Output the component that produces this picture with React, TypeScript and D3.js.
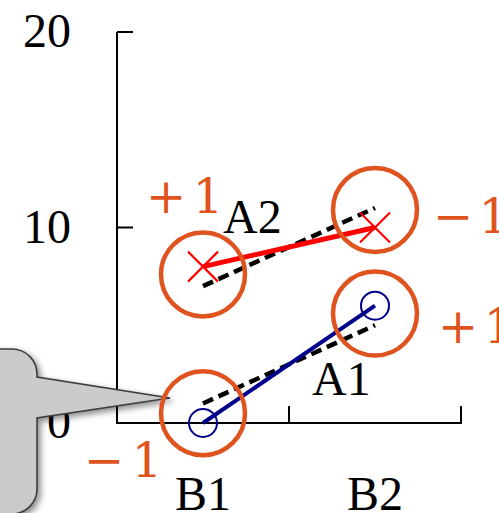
import React from "react";
import * as d3 from "d3";

const categories = ["B1", "B2"];
const seriesNames = ["A1", "A2"];
const a1Values = [0, 6];
const a2Values = [8, 10];
const a1Additive = [1, 5];
const a2Additive = [7, 11];
const yTicks = [0, 10, 20];
const residualLabels = [
  { series: "A1", cat: "B1", sign: "−", value: 1 },
  { series: "A1", cat: "B2", sign: "+", value: 1 },
  { series: "A2", cat: "B1", sign: "+", value: 1 },
  { series: "A2", cat: "B2", sign: "−", value: 1 },
];
const circleCenters = [0.5, 5.6, 7.6, 10.9];
const circleCats = ["B1", "B2", "B1", "B2"];

const W = 499;
const H = 513;
const ORANGE = "#DF531E";

export default function App() {
  const x = d3.scaleBand<string>().domain(categories).range([117, 461]).padding(0);
  const y = d3.scaleLinear().domain([0, 20]).range([423, 32]);
  const cx = (c: string) => (x(c) as number) + x.bandwidth() / 2;
  const line = d3
    .line<number>()
    .x((_, i) => cx(categories[i]))
    .y((v) => y(v));

  const serifBlack = "'Liberation Serif', 'Times New Roman', serif";
  const serifOrange = "'DejaVu Serif', serif";

  // label placement for residual labels (sign center x, digit center x, baseline y)
  const resPos = [
    { sx: 104, dx: 147, by: 477 },
    { sx: 458, dx: 499, by: 343 },
    { sx: 166, dx: 208, by: 213 },
    { sx: 453, dx: 494, by: 233 },
  ];

  const xTickPositions = [117, ...categories.map((c) => (x(c) as number) + x.bandwidth())];

  return (
    <svg
      width={W}
      height={H}
      style={{ position: "fixed", left: 0, top: 0, display: "block", background: "#fff" }}
    >
      <defs>
        <filter id="shadow" x="-50%" y="-50%" width="200%" height="200%">
          <feDropShadow dx="3" dy="3" stdDeviation="3" floodColor="#000" floodOpacity="0.45" />
        </filter>
      </defs>

      {/* Y axis */}
      <line x1={117} x2={117} y1={y(20)} y2={y(0)} stroke="#000" strokeWidth={2} />
      {yTicks.map((t) => (
        <g key={t}>
          {t > 0 && (
            <line x1={117} x2={133} y1={y(t)} y2={y(t)} stroke="#000" strokeWidth={2} />
          )}
          <text
            x={71}
            y={y(t) + 15}
            textAnchor="end"
            fontFamily={serifBlack}
            fontSize={48}
            fill="#000"
          >
            {t}
          </text>
        </g>
      ))}

      {/* X axis */}
      <line x1={116} x2={462} y1={y(0)} y2={y(0)} stroke="#000" strokeWidth={2} />
      {xTickPositions.map((p, i) => (
        <line key={i} x1={p} x2={p} y1={y(0)} y2={y(0) - 17} stroke="#000" strokeWidth={2} />
      ))}
      {categories.map((c) => (
        <text
          key={c}
          x={cx(c)}
          y={510}
          textAnchor="middle"
          fontFamily={serifBlack}
          fontSize={48}
          fill="#000"
        >
          {c}
        </text>
      ))}

      {/* Callout */}
      <path
        d={`M -20 349 L 12 349 A 25 25 0 0 1 37 374 L 37 377 L 170 398 L 37 418 L 37 489 A 25 25 0 0 1 12 514 L -20 514 Z`}
        fill="#CBCBCB"
        stroke="#3C3C3C"
        strokeWidth={1.6}
        filter="url(#shadow)"
      />

      {/* Additive (dashed) lines */}
      <path d={line(a1Additive) || ""} fill="none" stroke="#000" strokeWidth={4.5} strokeDasharray="11,6" />
      <path d={line(a2Additive) || ""} fill="none" stroke="#000" strokeWidth={4.5} strokeDasharray="11,6" />

      {/* Observed lines */}
      <path d={line(a1Values) || ""} fill="none" stroke="#00008B" strokeWidth={4} />
      <path d={line(a2Values) || ""} fill="none" stroke="#FF0000" strokeWidth={5} />

      {/* Markers */}
      {a1Values.map((v, i) => (
        <circle
          key={"a1" + i}
          cx={cx(categories[i])}
          cy={y(v)}
          r={14}
          fill="none"
          stroke="#00008B"
          strokeWidth={2}
        />
      ))}
      {a2Values.map((v, i) => {
        const px = cx(categories[i]);
        const py = y(v);
        const s = 15;
        return (
          <g key={"a2" + i} stroke="#FF0000" strokeWidth={2.2}>
            <line x1={px - s} y1={py - s} x2={px + s} y2={py + s} />
            <line x1={px - s} y1={py + s} x2={px + s} y2={py - s} />
          </g>
        );
      })}

      {/* Orange circles */}
      {circleCenters.map((v, i) => (
        <circle
          key={"oc" + i}
          cx={cx(circleCats[i])}
          cy={y(v)}
          r={42}
          fill="none"
          stroke={ORANGE}
          strokeWidth={4.5}
        />
      ))}

      {/* Series labels */}
      <text x={223} y={233} fontFamily={serifBlack} fontSize={48} fill="#000">
        {seriesNames[1]}
      </text>
      <text x={312} y={395} fontFamily={serifBlack} fontSize={48} fill="#000">
        {seriesNames[0]}
      </text>

      {/* Residual labels */}
      {residualLabels.map((r, i) => (
        <g key={"rl" + i} fill={ORANGE} fontFamily={serifOrange} fontSize={48}>
          <text x={resPos[i].sx} y={resPos[i].by} textAnchor="middle">
            {r.sign}
          </text>
          <text x={resPos[i].dx} y={resPos[i].by} textAnchor="middle">
            {r.value}
          </text>
        </g>
      ))}
    </svg>
  );
}
